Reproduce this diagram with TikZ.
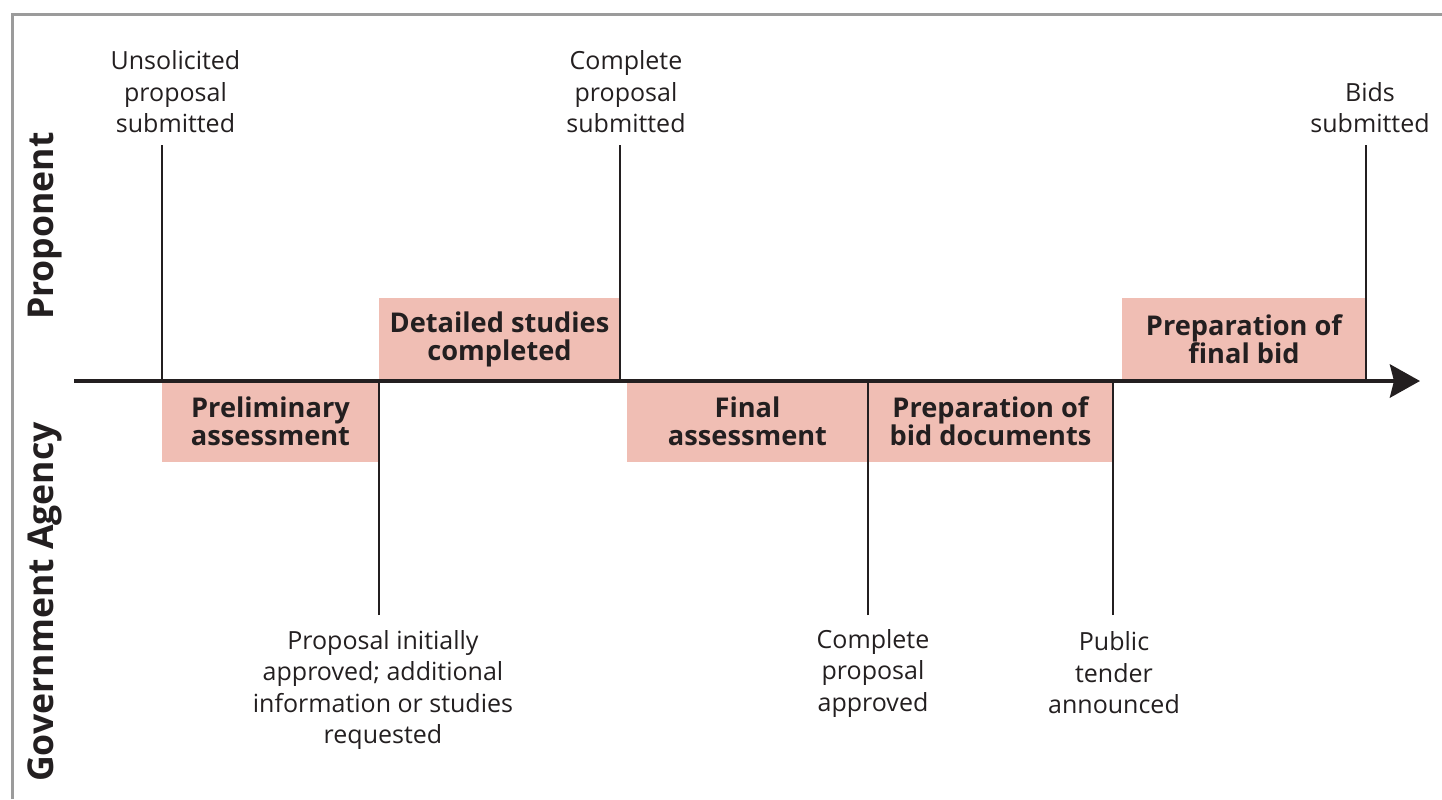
\documentclass[tikz,border=0pt]{standalone}
\usepackage{fontspec}
\setmainfont{Open Sans}
\usetikzlibrary{arrows.meta}
\definecolor{boxfill}{HTML}{F0BEB4}
\definecolor{ink}{HTML}{231F20}
\definecolor{framegray}{HTML}{9B9B9B}
\begin{document}
\begin{tikzpicture}[x=0.5pt,y=-0.5pt,
  lbl/.style={align=center, font=\fontsize{12.5}{15.75}\selectfont, text=ink, inner sep=0pt},
  phase/.style={fill=boxfill, inner sep=0pt, align=center, font=\fontsize{13.6}{14}\selectfont\bfseries, text=ink},
  tick/.style={draw=ink, line width=1pt},
  side/.style={rotate=90, font=\fontsize{17.8}{20}\selectfont\bfseries, text=ink, inner sep=0pt},
  axis/.style={draw=ink, line width=2.3pt, -{Stealth[length=15pt,width=16.5pt,inset=2pt]}}]
\useasboundingbox (0,0) rectangle (1442,799);
% frame
\draw[framegray, line width=1.5pt] (12,799) -- (12,14) -- (1442,14);
% phase boxes
\node[phase, minimum width=108.5pt, minimum height=40.5pt] (prelim) at (270.5,421.5) {Preliminary\\assessment};
\node[phase, minimum width=120.5pt, minimum height=41.5pt] (detail) at (499.5,339.5) {Detailed studies\\completed};
\node[phase, minimum width=120.5pt, minimum height=40.5pt] (final) at (747.5,421.5) {Final\\assessment};
\node[phase, minimum width=122.5pt, minimum height=40.5pt] (biddoc) at (990.5,421.5) {Preparation of\\bid documents};
\node[phase, minimum width=122pt, minimum height=41.5pt] (finalbid) at (1244,339.5) {Preparation of\\final bid};
% milestone coordinates
\coordinate (t1) at (162,145);  \coordinate (a1) at (162,381);
\coordinate (b2) at (379,615);  \coordinate (a2) at (379,381);
\coordinate (t3) at (620,145);  \coordinate (a3) at (620,381);
\coordinate (b4) at (868,615);  \coordinate (a4) at (868,381);
\coordinate (b5) at (1113,615); \coordinate (a5) at (1113,381);
\coordinate (t6) at (1366,145); \coordinate (a6) at (1366,381);
\draw[tick] (t1) -- (a1);
\draw[tick] (b2) -- (a2);
\draw[tick] (t3) -- (a3);
\draw[tick] (b4) -- (a4);
\draw[tick] (b5) -- (a5);
\draw[tick] (t6) -- (a6);
% axis
\coordinate (axs) at (74,381);
\coordinate (axe) at (1420,381);
\draw[axis] (axs) -- (axe);
% labels
\node[lbl] (l1) at (175.5,92) {Unsolicited\\proposal\\submitted};
\node[lbl] (l3) at (626,92) {Complete\\proposal\\submitted};
\node[lbl] (l6) at (1370,107.5) {Bids\\submitted};
\node[lbl] (l2) at (383,690) {Proposal initially\\approved; additional\\information or studies\\requested};
\node[lbl] (l4) at (873,673) {Complete\\proposal\\approved};
\node[lbl] (l5) at (1114,673) {Public\\tender\\announced};
% side labels
\node[side] (prop) at (45,226) {Proponent};
\node[side] (gov) at (45,602) {Government Agency};
\end{tikzpicture}
\end{document}
